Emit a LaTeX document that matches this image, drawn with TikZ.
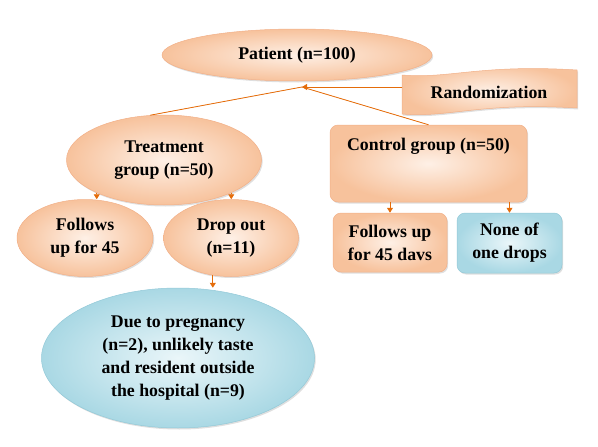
\documentclass[tikz,border=0pt]{standalone}
\usepackage{fontspec}
\setmainfont{Liberation Serif}
\usetikzlibrary{shapes.geometric,shadows,arrows.meta}
\definecolor{peach}{HTML}{F7C29C}
\definecolor{peachlt}{HTML}{FEF0E6}
\definecolor{peachln}{HTML}{F2B088}
\definecolor{bluedk}{HTML}{A9D8E4}
\definecolor{bluelt}{HTML}{EAF6F9}
\definecolor{blueln}{HTML}{93C9D8}
\definecolor{arrorange}{HTML}{E46C0A}
\begin{document}
\begin{tikzpicture}[x=1pt, y=-1pt, font=\bfseries\fontsize{17.8}{23}\selectfont, line join=round,
>={Triangle[length=5pt,width=6pt]},
shade peach/.style={draw=peachln, line width=.5pt, inner color=peachlt, outer color=peach, drop shadow={shadow xshift=1.2pt, shadow yshift=-1.5pt, opacity=.25}},
shade blue/.style={draw=blueln, line width=.5pt, inner color=bluelt, outer color=bluedk, drop shadow={shadow xshift=1.2pt, shadow yshift=-1.5pt, opacity=.25}},
pell/.style={ellipse, inner sep=0pt, align=center, shade peach},
bell/.style={ellipse, inner sep=0pt, align=center, shade blue},
pbox/.style={rectangle, rounded corners=8pt, inner sep=0pt, align=center, shade peach},
bbox/.style={rectangle, rounded corners=8pt, inner sep=0pt, align=center, shade blue},
conn/.style={draw=arrorange, line width=.8pt, fill=arrorange}]
\useasboundingbox (0,0) rectangle (598,447);
% top of the chart
\node[pell, minimum width=270, minimum height=52] (pat) at (297,55) {Patient (n=100)};
\path[shade peach] (402,75) .. controls (450,79) and (480,64) .. (577,70) -- (577,108)
 .. controls (480,102) and (450,118) .. (402,114) -- cycle;
\node (rand) at (489,92) {Randomization};
\coordinate (rl) at (402,87); \coordinate (j) at (302,87);
% treatment side
\node[pell, minimum width=195, minimum height=90] (treat) at (164,160) {Treatment\\group (n=50)};
\node[pell, minimum width=136, minimum height=77] (fol) at (85,238) {Follows\\up for 45};
\node[pell, minimum width=135, minimum height=77] (drop) at (231,238) {Drop out\\(n=11)};
\node[bell, minimum width=273, minimum height=140] (due) at (178,358)
 {Due to pregnancy\\(n=2), unlikely taste\\and resident outside\\the hospital (n=9)};
% control side
\node[pbox, minimum width=197, minimum height=77,
 label={[anchor=north, yshift=-10pt]north:Control group (n=50)}] (ctrl) at (428.5,163.5) {};
\node[pbox, minimum width=114, minimum height=59] (fu) at (390,242.5) {Follows up\\for 45 davs};
\node[bbox, minimum width=105, minimum height=60] (none) at (509.5,243) {None of\\one drops};
% connectors
\draw[conn,->] (rl) -- (j);
\draw[conn] (j) -- (treat.107) (j) -- (ctrl.north);
\draw[conn,->] (treat.206) -- (treat.206 |- fol.north);
\draw[conn,->] (treat.334) -- (treat.334 |- drop.north);
\draw[conn,->] (drop.244) -- (drop.244 |- due.north);
\draw[conn,->] (fu.north |- ctrl.south) -- (fu.north);
\draw[conn,->] (none.north |- ctrl.south) -- (none.north);
\end{tikzpicture}
\end{document}
